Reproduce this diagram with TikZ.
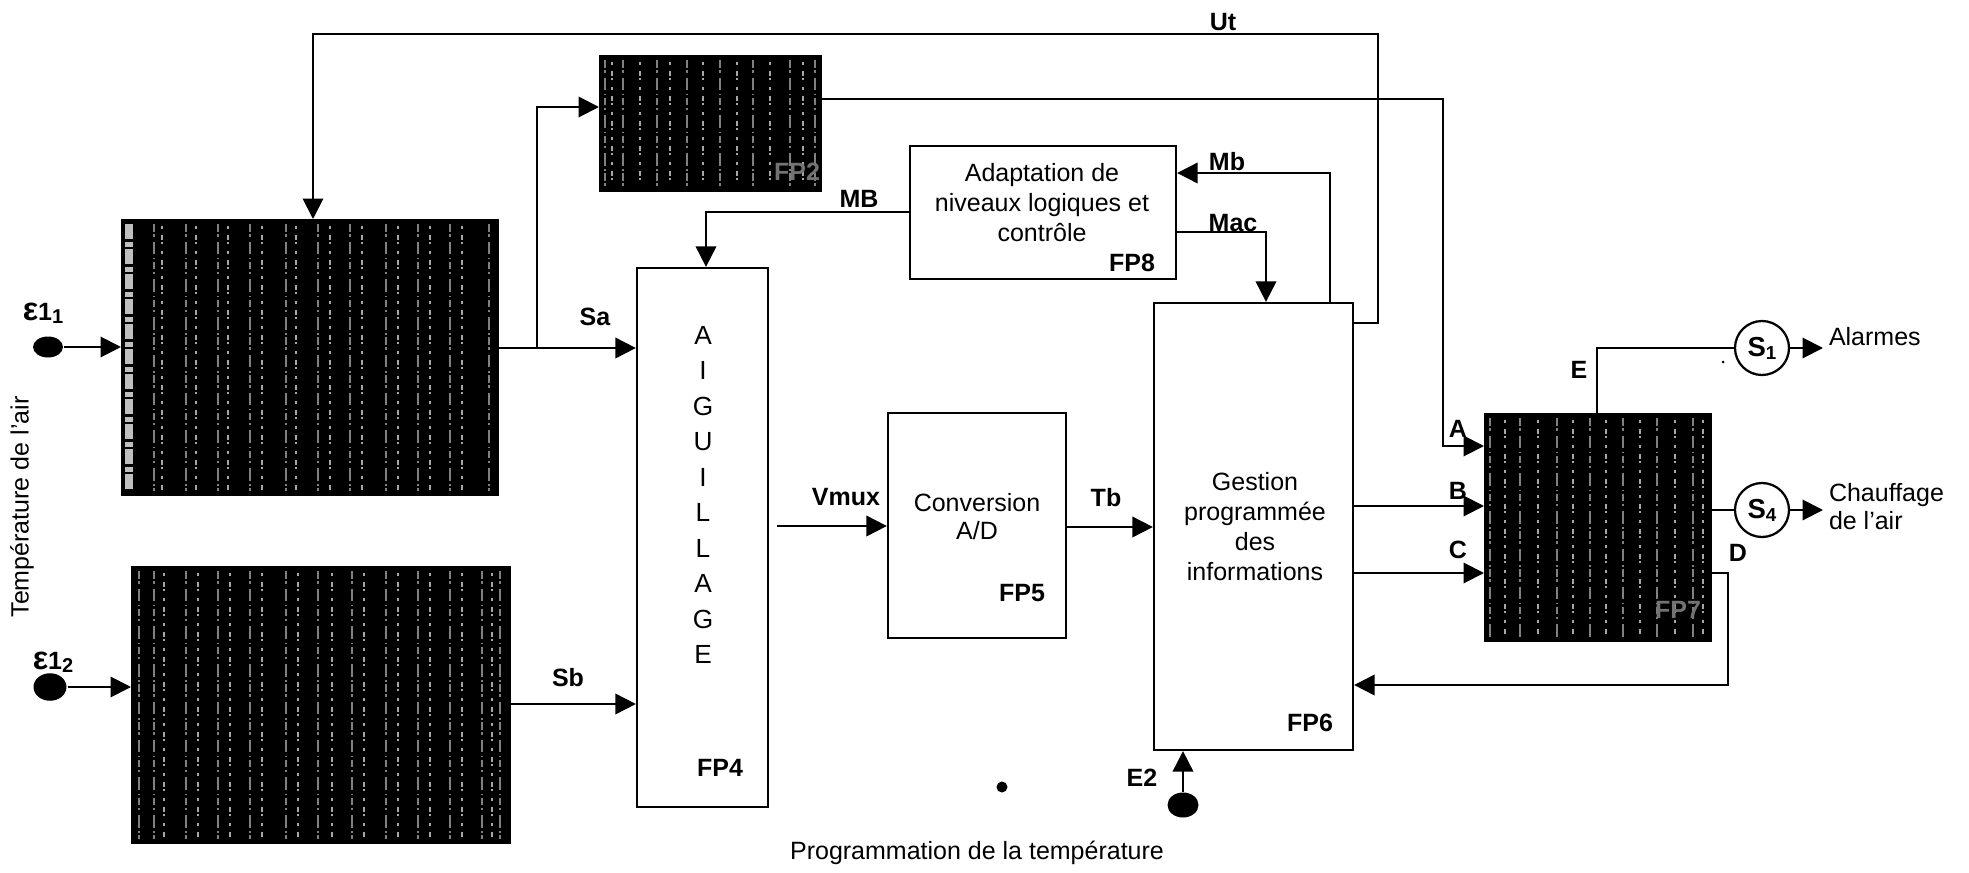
\documentclass[tikz,border=0pt]{standalone}
\usepackage{fontspec}
\setmainfont{Liberation Sans}
\usetikzlibrary{arrows.meta,fit,shapes.geometric}
\newcommand{\mystripes}[3]{\foreach \sx in {#3} {\draw[stripe] (\sx,#1) -- (\sx,#2);}}
\begin{document}
\begin{tikzpicture}[x=0.4pt,y=-0.4pt,
  line width=0.8pt,
  arr/.style={-{Triangle[length=8.2pt,width=8.2pt]}},
  wbox/.style={draw, line width=0.9pt, inner sep=0pt},
  dbox/.style={draw, fill=black, inner sep=0pt},
  lbl/.style={font=\fontsize{10}{12}\selectfont\bfseries, inner sep=0pt},
  txt/.style={align=center, inner sep=0pt, font=\fontsize{10}{12}\selectfont},
  stripe/.style={line width=1.1pt, draw=black!50, dash pattern=on 3pt off 1pt on 1pt off 2pt on 5pt off 1.5pt on 0.6pt off 1pt},
  stripeb/.style={line width=0.6pt, draw=black!35, dash pattern=on 1pt off 2.5pt on 2pt off 1pt on 0.5pt off 3pt},
  sig/.style={ellipse, fill=black, inner sep=0pt},
  sbox/.style={circle, draw, line width=0.9pt, minimum size=21.6pt, inner sep=0pt, font=\fontsize{11}{12}\selectfont\bfseries}
]
\useasboundingbox (0,0) rectangle (1969,873);

% ---- dark (scanned) blocks ----
\node[dbox, fit={(122,220) (498,495)}] (b1) {};
\node[dbox, fit={(132,567) (510,843)}] (b2) {};
\node[dbox, fit={(600,56) (821,191)}] (fp2) {};
\node[dbox, fit={(1485,414) (1711,641)}] (fp7) {};
\draw[line width=3pt, draw=black!25, dash pattern=on 6pt off 1pt on 2pt off 1pt] (129,224) -- (129,491);
\mystripes{224}{491}{154,186,218,250,286,318,350,386,418,450,489}
\mystripes{571}{839}{139,154,186,218,250,286,318,352,386,418,450,482,500}
\mystripes{60}{187}{605,623,657,687,720,753,790,815}
\mystripes{418}{637}{1490,1520,1557,1590,1623,1657,1693}
\foreach \sx in {162,196,228,262,296,330,362,398,430,462} {\draw[stripeb] (\sx,226) -- (\sx,490);}
\foreach \sx in {164,198,230,262,298,332,364,398,430,462,492} {\draw[stripeb] (\sx,573) -- (\sx,838);}
\foreach \sx in {612,640,670,703,737,770,803} {\draw[stripeb] (\sx,62) -- (\sx,186);}
\foreach \sx in {1505,1538,1573,1606,1640,1675,1703} {\draw[stripeb] (\sx,420) -- (\sx,636);}
\node[lbl, text=black!55] (fp2l) at (797,172) {FP2};
\node[lbl, text=black!55] (fp7l) at (1678,610) {FP7};

% ---- white blocks ----
\node[wbox, fit={(637,268) (768,807)}] (fp4) {};
\node[wbox, fit={(910,146) (1176,279)}] (fp8) {};
\node[wbox, fit={(888,413) (1066,638)}] (fp5) {};
\node[wbox, fit={(1154,303) (1353,750)}] (fp6) {};

\node[txt, font=\fontsize{10.5}{14.2}\selectfont] (aig) at (703,495) {A\\I\\G\\U\\I\\L\\L\\A\\G\\E};
\node[lbl] (fp4l) at (720,768) {FP4};
\node[txt] (t8) at (1042,203) {Adaptation de\\niveaux logiques et\\contrôle};
\node[lbl] (fp8l) at (1132,263) {FP8};
\node[txt, font=\fontsize{10}{11.2}\selectfont] (t5) at (977,517) {Conversion\\A/D};
\node[lbl] (fp5l) at (1022,593) {FP5};
\node[txt] (t6) at (1255,527) {Gestion\\programmée\\des\\informations};
\node[lbl] (fp6l) at (1310,723) {FP6};

% ---- inputs ----
\node[sig, minimum width=12pt, minimum height=8.4pt] (e11) at (48,347) {};
\node[sig, minimum width=13.2pt, minimum height=11pt] (e12) at (50,687) {};
\node[sig, minimum width=12.4pt, minimum height=10pt] (e2) at (1183,805) {};
\node[lbl] (e11l) at (43,313) {{\fontsize{13}{13}\selectfont ε}1\raisebox{-0.2ex}{\fontsize{8}{8}\selectfont 1}};
\node[lbl] (e12l) at (53,662) {{\fontsize{13}{13}\selectfont ε}1\raisebox{-0.2ex}{\fontsize{8}{8}\selectfont 2}};
\node[lbl] (e2l) at (1142,778) {E2};

% ---- outputs ----
\node[sbox] (s1) at (1762,348) {S\raisebox{-0.2ex}{\fontsize{7.5}{8}\selectfont 1}};
\node[sbox] (s4) at (1762,510) {S\raisebox{-0.2ex}{\fontsize{7.5}{8}\selectfont 4}};
\coordinate (alA) at (1823,348);
\coordinate (chA) at (1823,510);
\node[txt, anchor=west] (alarm) at (1828,337) {Alarmes};
\node[txt, anchor=west, align=left, font=\fontsize{10}{11.2}\selectfont] (chauf) at (1828,507) {Chauffage\\de l'air};

% ---- other texts ----
\node[txt, rotate=90] (tair) at (22,507) {Température de l'air};
\node[txt] (prog) at (977,853) {Programmation de la température};
\fill (1002,787) circle (2.2pt);
\fill (1723,362) circle (0.6pt);

% ---- signal labels ----
\node[lbl] (ut) at (1223,22) {Ut};
\node[lbl] (sa) at (595,317) {Sa};
\node[lbl] (sb) at (568,678) {Sb};
\node[lbl] (mbB) at (859,199) {MB};
\node[lbl] (mbs) at (1227,162) {Mb};
\node[lbl] (mac) at (1233,223) {Mac};
\node[lbl] (vmux) at (846,497) {Vmux};
\node[lbl] (tb) at (1106,498) {Tb};
\node[lbl] (la) at (1458,429) {A};
\node[lbl] (lb) at (1458,491) {B};
\node[lbl] (lc) at (1458,550) {C};
\node[lbl] (ld) at (1738,553) {D};
\node[lbl] (le) at (1579,370) {E};

% ---- connectors ----
\coordinate (j1) at (537,348);
\coordinate (vm) at (777,526);
\draw[arr] (e11) -- (b1.west |- e11);
\draw[arr] (e12) -- (b2.west |- e12);
\draw[arr] (b1.east |- j1) -- (fp4.west |- j1);
\draw[arr] (j1) |- (fp2.west |- 0,107);
\draw[arr] (b2.east |- 0,704) -- (fp4.west |- 0,704);
\draw[arr] (fp6.east |- 0,323) -- (1378,323) |- (313,34) -- (b1.north -| 313,0);
\draw[arr] (fp2.east |- 0,99) -- (1443,99) |- (fp7.west |- 0,446);
\draw[arr] (fp8.west |- 0,212) -| (fp4.north -| 706,0);
\draw[arr] (fp8.east |- 0,232) -| (fp6.north -| 1266,0);
\draw[arr] (fp6.north -| 1330,0) |- (fp8.east |- 0,173);
\draw[arr] (vm) -- (fp5.west |- vm);
\draw[arr] (fp5.east |- 0,527) -- (fp6.west |- 0,527);
\draw[arr] (fp6.east |- 0,506) -- (fp7.west |- 0,506);
\draw[arr] (fp6.east |- 0,573) -- (fp7.west |- 0,573);
\draw[arr] (fp7.east |- 0,573) -- (1728,573) |- (fp6.east |- 0,685);
\draw (fp7.north -| 1597,0) |- (s1);
\draw[arr] (s1) -- (alA);
\draw (fp7.east |- s4) -- (s4);
\draw[arr] (s4) -- (chA);
\draw[arr] (e2) -- (fp6.south -| e2);
\end{tikzpicture}
\end{document}
